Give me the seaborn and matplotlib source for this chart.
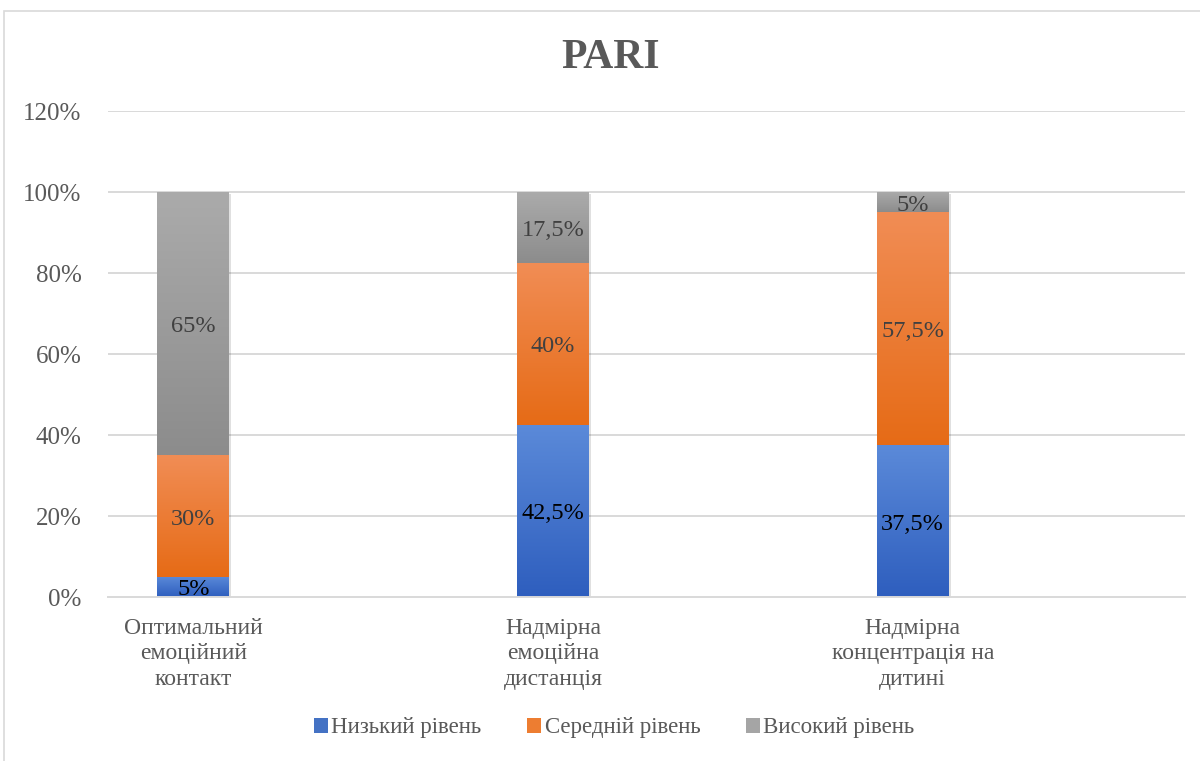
import numpy as np
import pandas as pd
import matplotlib
matplotlib.use("Agg")
import matplotlib.pyplot as plt
import matplotlib.patheffects as pe
import matplotlib.transforms as mtransforms
from matplotlib.colors import to_rgb
from matplotlib.patches import Rectangle, Patch
import seaborn as sns

categories = ["Оптимальний\nемоційний\nконтакт", "Надмірна\nемоційна\nдистанція", "Надмірна\nконцентрація на\nдитині"]
series_names = ["Низький рівень", "Середній рівень", "Високий рівень"]
low = [5, 42.5, 37.5]
mid = [30, 40, 57.5]
high = [65, 17.5, 5]
label_low = ["5%", "42,5%", "37,5%"]
label_mid = ["30%", "40%", "57,5%"]
label_high = ["65%", "17,5%", "5%"]
yticks = [0, 20, 40, 60, 80, 100, 120]
ytick_labels = ["0%", "20%", "40%", "60%", "80%", "100%", "120%"]

base_colors = ["#4472C4", "#ED7D31", "#A5A5A5"]
grad_top = ["#5B8AD9", "#F18D55", "#ABABAB"]
grad_bot = ["#2E5EBE", "#E66B16", "#8C8C8C"]
label_colors = ["#000000", "#404040", "#404040"]

sns.set_theme(style="white")
SERIF = ["Liberation Serif", "DejaVu Serif"]
plt.rcParams["font.family"] = SERIF

fig = plt.figure(figsize=(12, 7.61), dpi=100)
ax = fig.add_axes([0.09, 0.2155, 0.8975, 0.6386])

series_vals = [low, mid, high]
labels = [label_low, label_mid, label_high]
bottoms = np.zeros(len(categories))
down = mtransforms.offset_copy(ax.transData, fig=fig, x=0, y=-3, units="dots")

for i, vals in enumerate(series_vals):
    n_before = len(ax.patches)
    sns.barplot(x=categories, y=vals, bottom=bottoms, color=base_colors[i],
                width=0.2, ax=ax, saturation=1, linewidth=0, zorder=2)
    new_patches = ax.patches[n_before:]
    grad = np.linspace(0, 1, 256)[:, None]
    c0 = np.array(to_rgb(grad_top[i]))
    c1 = np.array(to_rgb(grad_bot[i]))
    img = (c0[None, None, :] * (1 - grad[:, :, None]) + c1[None, None, :] * grad[:, :, None])
    for j, p in enumerate(new_patches):
        x0 = p.get_x()
        w = p.get_width()
        y0 = p.get_y()
        h = p.get_height()
        p.set_path_effects([pe.SimplePatchShadow(offset=(1.5, -1.5), shadow_rgbFace="#000000", alpha=0.12), pe.Normal()])
        im = ax.imshow(img, extent=[x0, x0 + w, y0, y0 + h], aspect="auto",
                       origin="upper", zorder=2.5, interpolation="bilinear")
        im.set_clip_path(p)
        ax.text(x0 + w / 2, y0 + h / 2, labels[i][j], ha="center", va="center",
                fontsize=17.5, color=label_colors[i], zorder=4, transform=down,
                family=SERIF)
    bottoms = bottoms + np.array(vals)

ax.set_xlim(-0.237, 2.757)
ax.set_ylim(0, 120)
ax.set_yticks(yticks)
ax.set_yticklabels(ytick_labels, family=SERIF)
ax.set_xticks(range(len(categories)))
ax.set_xticklabels(categories, linespacing=1.28, family=SERIF)
ax.tick_params(axis="y", labelsize=18, labelcolor="#595959", length=0, pad=19)
ax.tick_params(axis="x", labelsize=17, labelcolor="#595959", length=0, pad=15)
for y in yticks[1:]:
    ax.axhline(y, color="#D9D9D9", lw=1.4, zorder=0)
for s in ["top", "right", "left"]:
    ax.spines[s].set_visible(False)
ax.spines["bottom"].set_color("#D9D9D9")
ax.spines["bottom"].set_linewidth(1.4)
ax.set_xlabel("")
ax.set_ylabel("")
ax.grid(False)

fig.text(0.509, 0.924, "PARI", ha="center", va="center", fontsize=30,
         fontweight="bold", color="#595959", family=SERIF)

handles = [Patch(facecolor=c, edgecolor="none") for c in base_colors]
fig.legend(handles, series_names, loc="center", bbox_to_anchor=(0.512, 0.0434),
           ncol=3, frameon=False, prop={"family": SERIF, "size": 16.5},
           labelcolor="#595959",
           handlelength=0.6, handleheight=0.6, handletextpad=0.15, columnspacing=2.0)

fig.patches.append(Rectangle((4 / 1200, -0.05), 1.2, 1 - 11 / 761 + 0.05,
                             transform=fig.transFigure, fill=False,
                             edgecolor="#D9D9D9", lw=1.2))

fig.savefig("out.png", dpi=100)
